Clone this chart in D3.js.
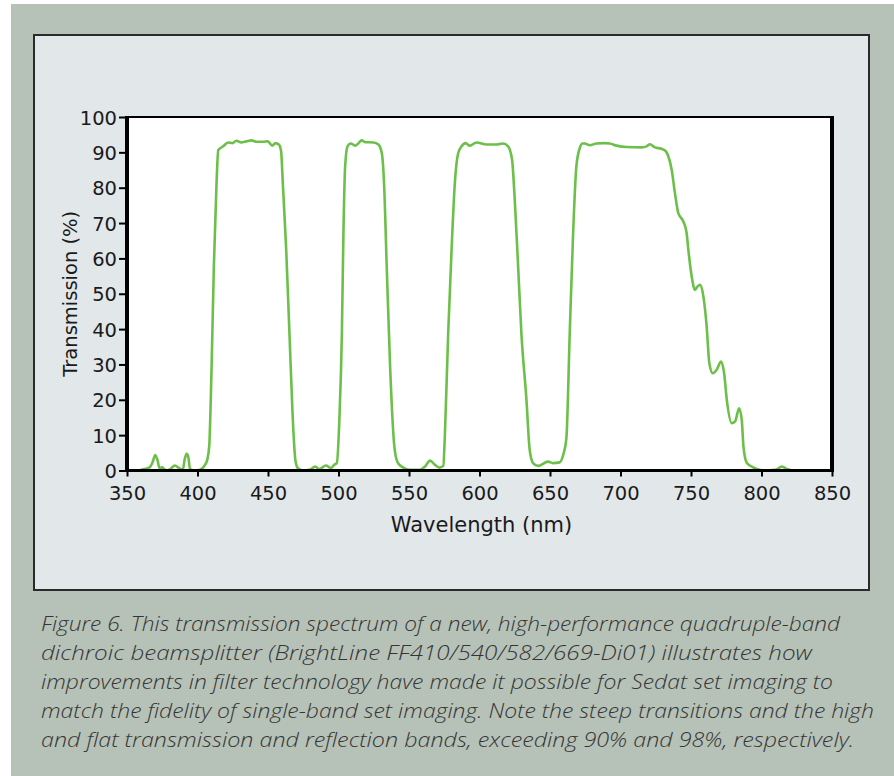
<!DOCTYPE html>
<html>
<head>
<meta charset="utf-8">
<script src="https://cdn.jsdelivr.net/npm/d3@7/dist/d3.min.js"></script>
<style>
html,body{margin:0;padding:0;background:#fff;}
svg{display:block;}
</style>
</head>
<body>
<svg id="chart" width="894" height="776"></svg>
<script>
// ---- data ----
const wavelength = [350,358,362,366,368.3,370,371.6,373,375,376.3,378,380.6,384,386.9,389.5,391.1,392.3,393.5,394.7,398,
401.7,405.3,406.9,408.3,410,411.6,413.5,414.7,418.2,421.7,424.8,427.6,431.1,434.6,438.2,441.7,446.4,449.9,453,455.3,457.7,459.3,
460.5,462.9,465.2,467.5,469.4,471.1,474.6,479.3,483.6,486.4,491.1,494.6,497,498.8,500.7,502.4,503.5,504.7,506.4,508.7,511.8,
514.2,516.5,518.9,524.8,528.3,530.7,532.3,534.2,536.6,539.4,541.7,544.8,550.7,557.8,561.3,564.9,568.4,571.5,574.3,575.5,577.8,
580.2,582.5,584.9,587.3,590.1,593.2,597.9,605,612,616.7,620.3,623.1,625,627.4,629.7,633.3,635.6,638,641.5,648.6,652.1,656.8,
659.5,661.6,664,666.4,668.7,671.1,673,674.6,678.2,682.9,688.9,692.4,697.2,704.3,714.9,718.5,720.9,724.4,729.1,732.2,733.9,
736.3,738.6,741,744.5,746.9,748.1,750.5,752.8,754.7,756.4,758.8,761.1,763,765.4,768.2,771.3,773.5,775.4,778.9,781.3,784.1,
786,787.2,789.6,793.1,796.7,801.4,809.7,814.5,818,822.7,850];
const transmission = [0,0,0.4,0.9,2.5,4.4,3,0.7,0.9,0.4,0,0.4,1.4,0.7,0.2,3.5,4.7,3.8,0.4,0,
0.2,1.6,3,6.8,29.4,57.7,81.3,90.6,91.7,92.8,92.6,93.3,92.8,93.1,93.4,93,93,93.1,91.9,92.6,92.2,90.3,
81.3,62.5,38.9,15.3,3,0.7,0,0.2,1.1,0.4,1.4,0.7,1.6,2.1,15.3,38.9,67.2,86,91.7,92.5,91.9,
92.6,93.4,92.9,92.8,92.2,89.8,81.3,57.7,29.4,7.7,2.5,1.1,0.2,0.2,1.1,2.8,1.6,0.8,1.3,10.6,38.9,
62.5,81.3,89.8,91.7,92.6,91.9,92.8,92.2,92.2,92.5,91.7,87.9,76.6,57.7,38.9,20,5.8,2.1,1.3,2.5,2.1,2.3,
4.6,9,38.9,67.2,86,91.2,92.5,92.5,92,92.5,92.6,92.5,91.9,91.5,91.4,91.7,92.3,91.4,91,90.3,88.9,
85.1,78.5,72.8,70.5,67.2,62.5,54.9,51.1,52.1,52.5,49.2,40.8,30.4,27.5,28.5,30.8,27.5,20,13.4,13.9,17.6,
14.3,6.8,2.1,1.1,0.4,0,0.2,1.1,0.4,0,0];
const xTicks = [350,400,450,500,550,600,650,700,750,800,850];
const yTicks = [0,10,20,30,40,50,60,70,80,90,100];
const xLabel = "Wavelength (nm)";
const yLabel = "Transmission (%)";
const captionLines = [
  "Figure 6. This transmission spectrum of a new, high-performance quadruple-band",
  "dichroic beamsplitter (BrightLine FF410/540/582/669-Di01) illustrates how",
  "improvements in filter technology have made it possible for Sedat set imaging to",
  "match the fidelity of single-band set imaging. Note the steep transitions and the high",
  "and flat transmission and reflection bands, exceeding 90% and 98%, respectively."
];
const captionWidths = [799, 771, 792, 833, 813];

// ---- layout ----
const svg = d3.select("#chart");
const W = 894, H = 776;
const plot = {left:127, right:832, top:117, bottom:470.5};

svg.append("rect").attr("x",0).attr("y",0).attr("width",W).attr("height",H).attr("fill","#ffffff");
svg.append("rect").attr("x",11).attr("y",4).attr("width",W-11).attr("height",H-4).attr("fill","#b6c1b7");
svg.append("rect").attr("x",34).attr("y",35).attr("width",835).attr("height",555)
  .attr("fill","#e2e7ea").attr("stroke","#2a2a2a").attr("stroke-width",2);

const x = d3.scaleLinear().domain([350,850]).range([plot.left, plot.right]);
const y = d3.scaleLinear().domain([0,100]).range([plot.bottom, plot.top]);

svg.append("rect").attr("x",plot.left).attr("y",plot.top)
  .attr("width",plot.right-plot.left).attr("height",plot.bottom-plot.top).attr("fill","#ffffff");

// curve
const pts = wavelength.map((w,i)=>[w, transmission[i]]);
const line = d3.line().x(d=>x(d[0])).y(d=>y(d[1])).curve(d3.curveMonotoneX);
svg.append("path").datum(pts).attr("d",line)
  .attr("fill","none").attr("stroke","#6cc04a").attr("stroke-width",2.6)
  .attr("stroke-linejoin","round").attr("stroke-linecap","round");

// frame
svg.append("line").attr("x1",plot.left-1).attr("x2",plot.right+2).attr("y1",plot.top).attr("y2",plot.top)
  .attr("stroke","#000").attr("stroke-width",2);
svg.append("line").attr("x1",plot.right).attr("x2",plot.right).attr("y1",plot.top-1).attr("y2",plot.bottom+1.5)
  .attr("stroke","#000").attr("stroke-width",4);

// axes
const fontTick = "'DejaVu Sans', sans-serif";
const xAxis = svg.append("g").attr("transform",`translate(0,${plot.bottom})`)
  .call(d3.axisBottom(x).tickValues(xTicks).tickSize(6).tickPadding(6).tickFormat(d3.format("d")));
const yAxis = svg.append("g").attr("transform",`translate(${plot.left},0)`)
  .call(d3.axisLeft(y).tickValues(yTicks).tickSize(8).tickPadding(2).tickFormat(d3.format("d")));
[xAxis,yAxis].forEach(a=>{
  a.select(".domain").remove();
  a.selectAll(".tick line").attr("stroke","#000").attr("stroke-width",2);
  a.selectAll(".tick text").attr("fill","#1a1a1a").style("font-family",fontTick).style("font-size","19.5px");
});
xAxis.selectAll(".tick text").attr("dy",null).attr("y",29);
yAxis.selectAll(".tick text").attr("dy","0.36em");

svg.append("line").attr("x1",plot.left).attr("x2",plot.left).attr("y1",plot.top-1).attr("y2",plot.bottom+1.5)
  .attr("stroke","#000").attr("stroke-width",4);
svg.append("line").attr("x1",plot.left-2).attr("x2",plot.right+2).attr("y1",plot.bottom).attr("y2",plot.bottom)
  .attr("stroke","#000").attr("stroke-width",3);

// axis labels
svg.append("text").attr("x",(plot.left+plot.right)/2+2).attr("y",532)
  .attr("text-anchor","middle").attr("fill","#1a1a1a")
  .style("font-family",fontTick).style("font-size","21px").text(xLabel);
svg.append("text").attr("transform",`translate(77,${(plot.top+plot.bottom)/2}) rotate(-90)`)
  .attr("text-anchor","middle").attr("fill","#1a1a1a")
  .style("font-family",fontTick).style("font-size","19.5px").text(yLabel);

// caption
const cap = svg.append("g");
captionLines.forEach((t,i)=>{
  cap.append("text").attr("x",41).attr("y",631 + i*29)
    .attr("fill","#353535")
    .attr("textLength",captionWidths[i]).attr("lengthAdjust","spacingAndGlyphs")
    .style("font-family","'Open Sans', sans-serif").style("font-style","italic")
    .style("font-weight","300").style("font-size","21px").text(t);
});
</script>
</body>
</html>
